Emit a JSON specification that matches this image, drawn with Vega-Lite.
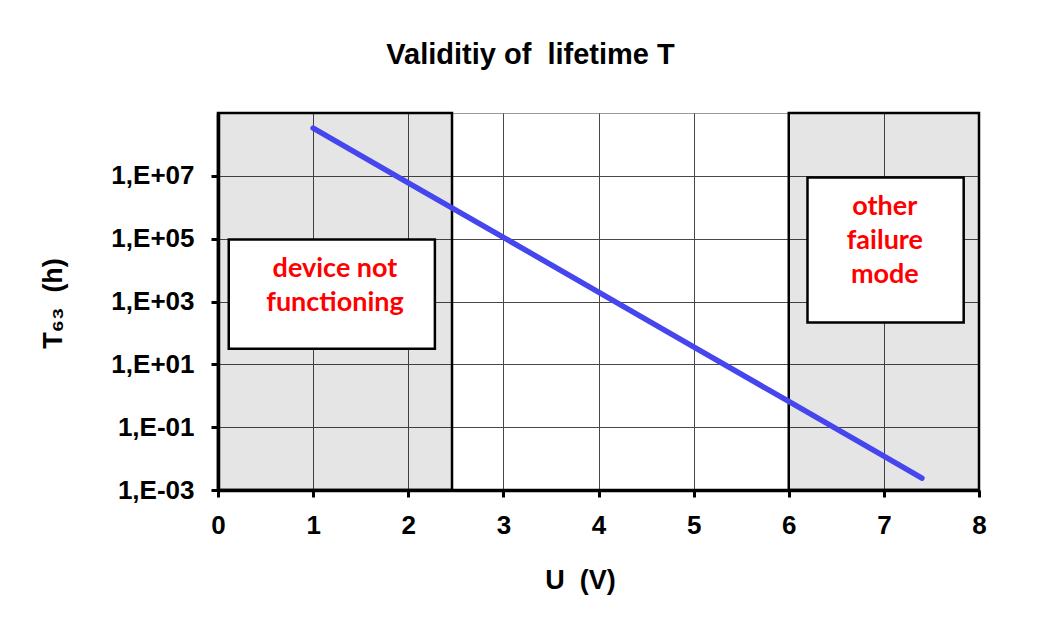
{
  "$schema": "https://vega.github.io/schema/vega-lite/v6.json",
  "autosize": {"type": "none"},
  "width": 761,
  "height": 377,
  "padding": {"left": 218, "top": 113, "right": 76, "bottom": 140},
  "background": "white",
  "config": {
    "view": {"stroke": "#9a9a9a", "strokeWidth": 1},
    "font": "Liberation Sans"
  },
  "title": {
    "text": "Validitiy of\u00a0 lifetime T",
    "font": "Liberation Sans",
    "fontSize": 29,
    "fontWeight": "bold",
    "color": "black",
    "anchor": "middle",
    "dx": -68,
    "offset": 42
  },
  "layer": [
    {
      "data": {"values": [
        {"u0": 0, "u1": 2.46, "lo": 0.001, "hi": 1000000000},
        {"u0": 6, "u1": 8, "lo": 0.001, "hi": 1000000000}
      ]},
      "mark": {"type": "rect", "fill": "black", "fillOpacity": 0.1, "stroke": "black", "strokeWidth": 2.5, "strokeOpacity": 1},
      "encoding": {
        "x": {
          "field": "u0", "type": "quantitative",
          "scale": {"domain": [0, 8], "nice": false, "zero": false},
          "axis": {
            "title": "U\u00a0 (V)",
            "values": [0, 1, 2, 3, 4, 5, 6, 7, 8],
            "format": "d",
            "labelFont": "Liberation Sans",
            "labelFontSize": 26,
            "labelFontWeight": "bold",
            "labelColor": "black",
            "labelPadding": 15,
            "labelFlush": false,
            "tickSize": 7,
            "tickWidth": 3,
            "tickColor": "black",
            "domainColor": "black",
            "domainWidth": 3.5,
            "grid": true,
            "gridColor": "#484848",
            "gridWidth": 1,
            "gridOpacity": 1,
            "titleFont": "Liberation Sans",
            "titleFontSize": 27,
            "titleFontWeight": "bold",
            "titleColor": "black",
            "titleX": 362,
            "titleY": 90,
            "titleAlign": "center",
            "titleBaseline": "middle"
          }
        },
        "x2": {"field": "u1"},
        "y": {
          "field": "lo", "type": "quantitative",
          "scale": {"type": "log", "domain": [0.001, 1000000000], "nice": false},
          "axis": {
            "title": "T₆₃\u00a0 (h)",
            "values": [0.001, 0.1, 10, 1000, 100000, 10000000],
            "labelExpr": "'1,E' + (datum.value >= 1 ? '+' : '-') + pad(toString(abs(round(log(datum.value) / LN10))), 2, '0', 'left')",
            "labelFont": "Liberation Sans",
            "labelFontSize": 26,
            "labelFontWeight": "bold",
            "labelColor": "black",
            "labelPadding": 17,
            "tickSize": 7,
            "tickWidth": 3,
            "tickColor": "black",
            "domainColor": "black",
            "domainWidth": 3.5,
            "grid": true,
            "gridColor": "#484848",
            "gridWidth": 1,
            "gridOpacity": 1,
            "titleFont": "Liberation Sans",
            "titleFontSize": 27,
            "titleFontWeight": "bold",
            "titleColor": "black",
            "titleAngle": -90,
            "titleX": -165,
            "titleY": 190,
            "titleAlign": "center",
            "titleBaseline": "middle"
          }
        },
        "y2": {"field": "hi"}
      }
    },
    {
      "data": {"values": [
        {"U": 1.0, "T": 330000000},
        {"U": 2.0, "T": 6000000},
        {"U": 3.0, "T": 110000},
        {"U": 4.0, "T": 2000},
        {"U": 5.0, "T": 36},
        {"U": 6.0, "T": 0.66},
        {"U": 7.0, "T": 0.012},
        {"U": 7.4, "T": 0.0024}
      ]},
      "mark": {"type": "line", "color": "#4646ee", "strokeWidth": 5.5, "strokeCap": "round", "strokeJoin": "round"},
      "encoding": {
        "x": {"field": "U", "type": "quantitative"},
        "y": {"field": "T", "type": "quantitative"}
      }
    },
    {
      "data": {"values": [
        {"u0": 0.113, "u1": 2.28, "lo": 31.6, "hi": 94400},
        {"u0": 6.197, "u1": 7.839, "lo": 214, "hi": 8900000}
      ]},
      "mark": {"type": "rect", "fill": "white", "stroke": "black", "strokeWidth": 2.5},
      "encoding": {
        "x": {"field": "u0", "type": "quantitative"},
        "x2": {"field": "u1"},
        "y": {"field": "lo", "type": "quantitative"},
        "y2": {"field": "hi"}
      }
    },
    {
      "data": {"values": [
        {"label": ["device not", "functioning"], "U": 1.23, "T": 11200},
        {"label": ["other", "failure", "mode"], "U": 7.01, "T": 1000000}
      ]},
      "mark": {"type": "text", "font": "Lato", "fontSize": 27, "fontWeight": "bold", "color": "#ff0000", "align": "center", "baseline": "middle", "lineHeight": 34},
      "encoding": {
        "x": {"field": "U", "type": "quantitative"},
        "y": {"field": "T", "type": "quantitative"},
        "text": {"field": "label"}
      }
    }
  ]
}
